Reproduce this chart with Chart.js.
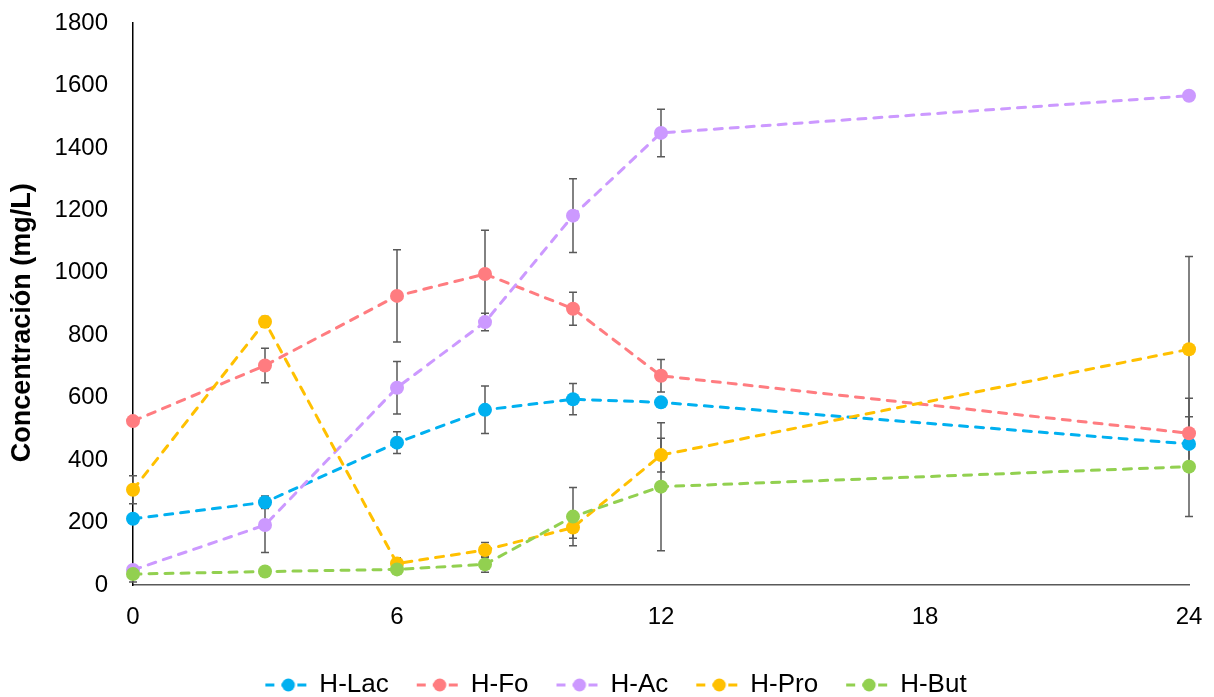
<!DOCTYPE html>
<html>
<head>
<meta charset="utf-8">
<script src="https://cdn.jsdelivr.net/npm/chart.js@4.4.0/dist/chart.umd.min.js"></script>
<style>
    html, body { margin: 0; padding: 0; background: #fff; overflow: hidden; }
    #wrap { width: 1214px; height: 697px; }
</style>
</head>
<body>
<div id="wrap"><canvas id="grafico"></canvas></div>
<script>
// datos (tiempo en horas)
const horas = [0, 3, 6, 8, 10, 12, 24];
const xTicks = [0, 6, 12, 18, 24];
const yTicks = [0, 200, 400, 600, 800, 1000, 1200, 1400, 1600, 1800];

const hLac = [212, 265, 456, 561, 595, 585, 452];
const hLacErr = [0, 20, 35, 76, 50, 0, 0];
const hFo = [525, 703, 926, 996, 885, 670, 486];
const hFoErr = [0, 55, 148, 140, 53, 52, 112];
const hAc = [48, 192, 632, 842, 1183, 1448, 1567];
const hAcErr = [0, 88, 84, 28, 118, 76, 0];
const hPro = [305, 843, 69, 112, 184, 416, 755];
const hProErr = [45, 17, 18, 24, 34, 54, 297];
const hBut = [35, 43, 50, 66, 219, 315, 379];
const hButErr = [25, 0, 0, 25, 93, 205, 160];

const series = [
    { label: 'H-Lac', data: hLac, err: hLacErr, color: '#00B0F0' },
    { label: 'H-Fo', data: hFo, err: hFoErr, color: '#FF7C80' },
    { label: 'H-Ac', data: hAc, err: hAcErr, color: '#CC99FF' },
    { label: 'H-Pro', data: hPro, err: hProErr, color: '#FFC000' },
    { label: 'H-But', data: hBut, err: hButErr, color: '#92D050' }
];

Chart.defaults.font.family = "'Liberation Sans', Arial, sans-serif";
Chart.defaults.color = '#000';

// icono de leyenda: linea discontinua con punto (margen transparente a la izquierda)
const CAJA = 59;
function iconoLeyenda(color) {
    const c = document.createElement('canvas');
    c.width = CAJA + 14;
    c.height = 16;
    const g = c.getContext('2d');
    const x0 = c.width - 50;
    g.strokeStyle = color;
    g.lineWidth = 3;
    g.setLineDash([9, 7]);
    g.beginPath();
    g.moveTo(x0 + 2, 8);
    g.lineTo(c.width, 8);
    g.stroke();
    g.fillStyle = color;
    g.beginPath();
    g.arc(x0 + 25, 8, 6.5, 0, Math.PI * 2);
    g.fill();
    return c;
}
const iconos = series.map(s => iconoLeyenda(s.color));

// barras de error
const barrasError = {
    id: 'barrasError',
    beforeDatasetsDraw(chart) {
        const ctx = chart.ctx;
        const y = chart.scales.y;
        ctx.save();
        ctx.strokeStyle = '#595959';
        ctx.lineWidth = 1.5;
        chart.data.datasets.forEach((ds, i) => {
            const meta = chart.getDatasetMeta(i);
            ds.errores.forEach((e, j) => {
                if (!e) return;
                const px = meta.data[j].x;
                const top = y.getPixelForValue(ds.data[j].y + e);
                const bot = y.getPixelForValue(ds.data[j].y - e);
                ctx.beginPath();
                ctx.moveTo(px, top);
                ctx.lineTo(px, bot);
                ctx.moveTo(px - 4, top);
                ctx.lineTo(px + 4, top);
                ctx.moveTo(px - 4, bot);
                ctx.lineTo(px + 4, bot);
                ctx.stroke();
            });
        });
        ctx.restore();
    }
};

const ctx = document.getElementById('grafico').getContext('2d');
new Chart(ctx, {
    type: 'line',
    data: {
        datasets: series.map((s, i) => ({
            label: s.label,
            data: horas.map((h, j) => ({ x: h, y: s.data[j] })),
            errores: s.err,
            borderColor: s.color,
            backgroundColor: s.color,
            borderWidth: 3,
            borderDash: [8, 8],
            borderCapStyle: 'round',
            pointRadius: 7,
            pointBorderWidth: 0,
            pointBackgroundColor: s.color,
            tension: 0,
            clip: false,
            order: series.length - i
        }))
    },
    options: {
        responsive: true,
        maintainAspectRatio: false,
        animation: false,
        layout: { padding: { top: 23, right: 0, left: 0, bottom: -11 } },
        plugins: {
            tooltip: { enabled: false },
            legend: {
                position: 'bottom',
                labels: {
                    usePointStyle: true,
                    pointStyleWidth: CAJA,
                    padding: 10,
                    font: { size: 26 },
                    generateLabels(chart) {
                        const items = Chart.defaults.plugins.legend.labels.generateLabels(chart);
                        items.sort((a, b) => a.datasetIndex - b.datasetIndex);
                        items.forEach(it => { it.pointStyle = iconos[it.datasetIndex]; });
                        return items;
                    }
                }
            }
        },
        scales: {
            x: {
                type: 'linear',
                min: 0,
                max: 24,
                afterBuildTicks: (scale) => { scale.ticks = xTicks.map(v => ({ value: v })); },
                grid: { display: false, drawTicks: false },
                border: { display: true, color: '#595959', width: 1.5 },
                ticks: { font: { size: 24 }, padding: 18, maxRotation: 0, callback: v => String(v) },
                afterFit: (scale) => {
                    scale.height = 77;
                    scale.paddingLeft = 0;
                    scale.paddingRight = 25;
                }
            },
            y: {
                min: 0,
                max: 1800,
                afterBuildTicks: (scale) => { scale.ticks = yTicks.map(v => ({ value: v })); },
                grid: { display: false, drawTicks: false },
                border: { display: true, color: '#000', width: 1.5 },
                ticks: { font: { size: 24 }, padding: 25, callback: v => String(v) },
                title: {
                    display: true,
                    text: 'Concentración (mg/L)\u00A0\u00A0\u00A0\u00A0\u00A0',
                    font: { size: 27, weight: 'bold' },
                    padding: { top: 6, bottom: 0 }
                },
                afterFit: (scale) => {
                    scale.width = 133;
                    scale.paddingTop = 0;
                    scale.paddingBottom = 0;
                }
            }
        }
    },
    plugins: [barrasError]
});
</script>
</body>
</html>
